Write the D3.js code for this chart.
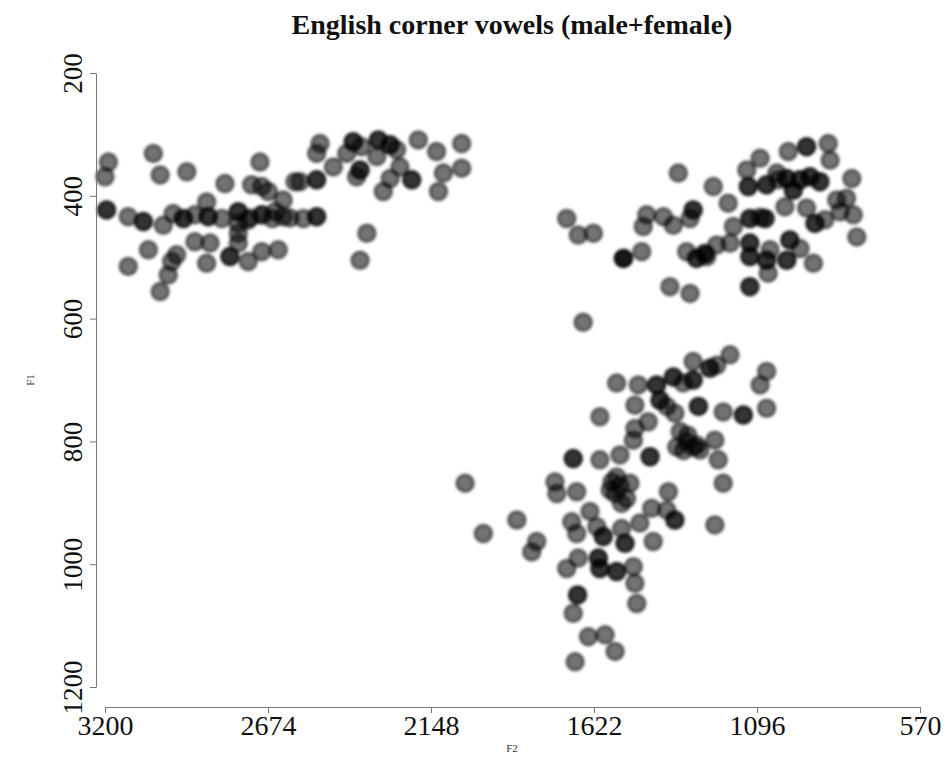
<!DOCTYPE html>
<html>
<head>
<meta charset="utf-8">
<script src="https://cdn.jsdelivr.net/npm/d3@7"></script>
<style>
  body { margin: 0; background: #fff; }
  text { font-family: "Liberation Serif", "DejaVu Serif", serif; }
</style>
</head>
<body>
<svg id="chart" width="945" height="764"></svg>
<script>
// Axis ticks
const xTickValues = [3200, 2674, 2148, 1622, 1096, 570];
const yTickValues = [200, 400, 600, 800, 1000, 1200];

// /i/ tokens (F2, F1 in Hz)
const iF2 = [3189,3200,3044,3022,2936,2700,2813,2727,2694,2673,2587,3195,3195,3125,3076,3076,3012,2980,2947,2947,
  2872,2867,2867,2823,2770,2770,2770,2694,2694,2625,2625,2910,2861,2770,2770,3060,2969,2985,3125,2872,
  2797,2797,2738,2694,2641,2996,3022,2740,2660,2910,2732,2651,2603,
  2506,2517,2463,2399,2399,2372,2420,2377,2377,2388,2318,2318,2280,2280,2259,2323,2248,2280,2302,2210,
  2210,2189,2130,2049,2108,2049,2124,2571,2517,2517,2560,2517,2517,2355,2377];
const iF1 = [345,369,331,366,361,345,380,382,385,393,377,423,423,434,442,442,448,429,437,437,
  410,434,434,437,426,426,445,431,431,407,434,475,477,461,477,488,496,507,515,510,
  499,499,507,491,488,529,556,440,437,431,436,426,436,
  315,331,353,312,312,320,331,358,358,369,309,309,317,317,325,336,353,372,393,374,
  374,309,328,315,363,355,393,377,374,374,437,434,434,461,505];

// /u/ tokens
const uF2 = [1350,1710,1673,1624,1452,1463,1398,1366,1302,1302,1312,1527,1527,1527,1468,1323,1291,1291,1258,1377,
  1312,1657,1237,1189,1129,1086,1124,1124,1065,1065,1032,995,936,936,866,860,1000,1000,957,957,
  925,925,893,893,979,979,790,1006,936,839,807,785,828,774,1119,1119,1070,1070,1172,909,
  909,877,1183,1226,1264,1264,1119,1119,1119,1119,1065,1065,1000,1000,990,990,957,914,1060,1119,1119,
  1028,1086,1054];
const uF1 = [363,437,464,461,431,450,434,448,423,423,437,502,502,502,491,491,502,502,499,548,
  559,606,385,412,358,339,385,385,382,382,363,328,320,320,315,342,372,372,374,374,
  369,369,377,377,391,391,372,418,420,407,404,431,426,467,437,437,437,437,450,445,
  445,439,477,480,494,494,477,477,499,499,505,505,505,505,472,472,486,510,526,548,548,
  374,435,488];

// /a/ tokens
const aF2 = [2038,1979,1871,1807,1823,1689,1689,1603,1538,1748,1742,1678,1549,1506,1570,1554,1517,1533,1538,1635,
  1694,1678,1613,1592,1592,1533,1522,1522,1710,1673,1608,1608,1603,1603,1549,1549,1495,1490,1484,1675,
  1675,1689,1640,1586,1554,1683,1564,
  1183,1226,1248,1248,1302,1302,1302,1366,1366,1334,1420,1420,1479,1549,1065,1086,1065,1140,1140,1205,
  1285,1285,1409,1409,1387,1361,1490,1603,1447,1490,1495,1344,1355,1302,1280,1323,1333,1232,1221,1205,
  1441,1441,1382,1436,1387,1361,1361,1474,1232,1431,1319,1290];
const aF1 = [868,950,928,963,980,828,828,830,822,866,885,882,858,868,879,885,893,901,872,914,
  931,950,939,955,955,942,966,966,1007,990,990,990,1007,1007,1012,1012,1004,1031,1064,1050,
  1050,1080,1118,1115,1142,1159,866,
  659,676,681,681,670,700,700,695,695,705,708,708,708,705,686,708,746,757,757,752,
  743,743,733,733,743,754,741,760,768,779,798,784,809,809,814,800,815,798,830,868,
  825,825,882,909,912,928,928,933,936,963,790,806];

const svg = d3.select("#chart");

const x = d3.scaleLinear().domain([3200, 570]).range([105, 920]);
const y = d3.scaleLinear().domain([200, 1200]).range([73, 687]);

// soft edge on the markers
const defs = svg.append("defs");
defs.append("filter").attr("id", "soft")
  .attr("x", "-20%").attr("y", "-20%").attr("width", "140%").attr("height", "140%")
  .append("feGaussianBlur").attr("stdDeviation", 1.4);

const tokens = [];
[[iF2, iF1], [uF2, uF1], [aF2, aF1]].forEach(([f2, f1]) => {
  f2.forEach((v, k) => tokens.push({ f2: v, f1: f1[k] }));
});

svg.append("g").attr("filter", "url(#soft)")
  .selectAll("circle").data(tokens).join("circle")
  .attr("cx", d => x(d.f2))
  .attr("cy", d => y(d.f1))
  .attr("r", 8.5)
  .attr("fill", "rgba(0,0,0,0.55)")
  .attr("stroke", "rgba(0,0,0,0.55)")
  .attr("stroke-width", 2.5);

// x axis
const xAxis = svg.append("g").attr("transform", "translate(0,707)")
  .call(d3.axisBottom(x).tickValues(xTickValues).tickFormat(d3.format("d")).tickSizeOuter(0).tickSizeInner(6).tickPadding(2));
xAxis.select(".domain").attr("stroke", "#777");
xAxis.selectAll(".tick line").attr("stroke", "#777");
xAxis.selectAll(".tick text").attr("font-size", 28).attr("fill", "#111")
  .attr("font-family", "Liberation Serif, serif");

// y axis
const yAxis = svg.append("g").attr("transform", "translate(96,0)")
  .call(d3.axisLeft(y).tickValues(yTickValues).tickFormat(d3.format("d")).tickSizeOuter(0).tickSizeInner(6));
yAxis.select(".domain").attr("stroke", "#777");
yAxis.selectAll(".tick line").attr("stroke", "#777");
yAxis.selectAll(".tick text")
  .attr("font-size", 27).attr("fill", "#111")
  .attr("font-family", "Liberation Serif, serif")
  .attr("x", null).attr("dy", null)
  .attr("text-anchor", "middle")
  .attr("transform", "translate(-14,0) rotate(-90)");

// titles
svg.append("text").attr("x", 512).attr("y", 34)
  .attr("text-anchor", "middle").attr("font-weight", "bold").attr("font-size", 28)
  .attr("fill", "#111")
  .text("English corner vowels (male+female)");

svg.append("text").attr("x", 512).attr("y", 752)
  .attr("text-anchor", "middle").attr("font-size", 11).attr("fill", "#333")
  .text("F2");

svg.append("text").attr("transform", "translate(34,380) rotate(-90)")
  .attr("text-anchor", "middle").attr("font-size", 11).attr("fill", "#333")
  .text("F1");
</script>
</body>
</html>
